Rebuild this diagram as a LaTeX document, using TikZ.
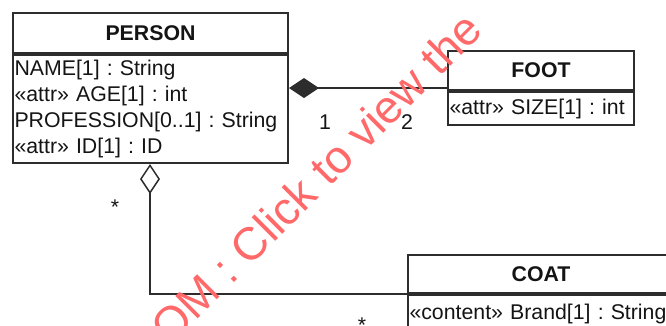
\documentclass[tikz,border=0pt]{standalone}
\usepackage{fontspec}
\setmainfont{Liberation Sans}
\usetikzlibrary{arrows.meta,positioning}
\definecolor{umlline}{RGB}{45,45,45}
\definecolor{umltext}{RGB}{20,20,20}
\definecolor{wmred}{RGB}{255,105,105}
\tikzset{umlpic/.style={x=1pt,y=-1pt,font=\fontsize{21.3}{25.7}\selectfont,text=umltext},
  clshead/.style={draw=umlline,line width=2pt,anchor=north west,inner sep=0pt,font=\fontsize{21.3}{25.7}\selectfont\bfseries},
  clsattr/.style={draw=umlline,line width=2pt,anchor=north,inner xsep=1.5pt,inner ysep=0pt,align=left},
  assoc/.style={draw=umlline,line width=1.5pt},
  mult/.style={inner sep=0pt}}

\begin{document}
\frenchspacing
\begin{tikzpicture}[umlpic]
    \useasboundingbox (0,0) rectangle (666,325);
    \clip (0,0) rectangle (666,325);
    % classes
    \node[clshead,minimum width=275pt,minimum height=40pt] (personhead) at (12,12) {PERSON};
    \node[clsattr,text width=272pt,minimum height=108pt] (personattr) at (personhead.south)
      {NAME[1] : String\\«attr» AGE[1] : int\\PROFESSION[0..1] : String\\«attr» ID[1] : ID};
    \node[clshead,minimum width=186pt,minimum height=39pt] (foothead) at (447,50) {FOOT};
    \node[clsattr,text width=183pt,minimum height=33pt] (footattr) at (foothead.south) {«attr» SIZE[1] : int};
    \node[clshead,minimum width=266pt,minimum height=38pt] (coathead) at (407,254) {COAT};
    \node[clsattr,text width=263pt,minimum height=38pt] (coatattr) at (coathead.south) {«content» Brand[1] : String};
    % composition and aggregation
    \coordinate (footin) at ([yshift=3pt]foothead.south west);
    \draw[assoc,{Diamond[length=30pt,width=20pt]}-] (footin -| personhead.east) -- (footin);
    \draw[assoc,{Diamond[open,length=30pt,width=20pt,fill=white]}-] ([xshift=138pt]personattr.south west) |- (coathead.south west);
    \node[mult] (compsrc) at (325,122) {1};
    \node[mult] (comptgt) at (407,122) {2};
    \node[mult] (aggsrc) at (115,207) {*};
    \node[mult] (aggtgt) at (362,325) {*};
    %\node[mult] (aggmid) at (150,240) {};
    \node[text=wmred,font=\fontsize{46}{50}\selectfont,rotate=45,anchor=base west,inner sep=0pt] (wmark) at (170,347) {OM : Click to view the};
\end{tikzpicture}
\end{document}
